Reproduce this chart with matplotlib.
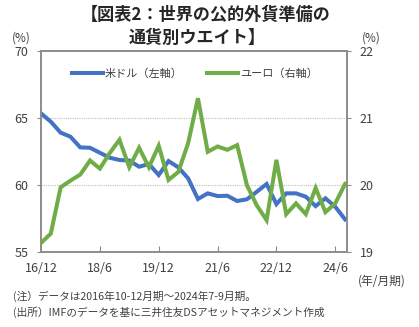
import matplotlib
matplotlib.use("Agg")
import matplotlib.pyplot as plt
import numpy as np

plt.rcParams['font.family'] = ['Noto Sans CJK JP', 'DejaVu Sans']

# 2016Q4 - 2024Q3, quarterly
usd_share = [65.37, 64.75, 63.93, 63.63, 62.83, 62.80, 62.43, 62.06, 61.89, 61.85,
             61.39, 61.59, 60.77, 61.81, 61.34, 60.52, 58.98, 59.40, 59.20, 59.22,
             58.83, 58.96, 59.52, 60.10, 58.60, 59.40, 59.40, 59.15, 58.45, 59.03,
             58.40, 57.46]
eur_share = [19.14, 19.28, 19.97, 20.07, 20.16, 20.37, 20.25, 20.48, 20.68, 20.27,
             20.56, 20.27, 20.59, 20.08, 20.20, 20.63, 21.30, 20.50, 20.58, 20.53,
             20.60, 20.00, 19.70, 19.48, 20.38, 19.57, 19.73, 19.57, 19.96, 19.60,
             19.73, 20.02]
tick_labels = ['16/12', '18/6', '19/12', '21/6', '22/12', '24/6']
tick_pos = [0, 6, 12, 18, 24, 30]

blue = '#4472C4'
green = '#70AD47'
txt = '#404040'
frame = '#8c8c8c'

fig = plt.figure(figsize=(4.19, 3.27), dpi=100)
ax = fig.add_axes([0.0979, 0.2284, 0.7303, 0.6146])
ax2 = ax.twinx()

x = np.arange(len(usd_share))
l1, = ax.plot(x, usd_share, color=blue, lw=2.9, solid_joinstyle='miter', zorder=3,
              label='米ドル（左軸）')
l2, = ax2.plot(x, eur_share, color=green, lw=2.9, solid_joinstyle='miter', zorder=3,
               label='ユーロ（右軸）')

ax.set_xlim(0, 31.2)
ax.set_ylim(55, 70)
ax2.set_ylim(19, 22)
ax.set_yticks([55, 60, 65, 70])
ax2.set_yticks([19, 20, 21, 22])
ax.set_xticks(tick_pos)
ax.set_xticklabels(tick_labels)

for a in (ax, ax2):
    for s in a.spines.values():
        s.set_color(frame)
        s.set_linewidth(1.2)

ax.tick_params(axis='x', direction='in', length=4, color=frame, labelsize=9,
               labelcolor=txt, pad=7)
ax.tick_params(axis='y', direction='out', length=3, color=frame, labelsize=9,
               labelcolor=txt, pad=6)
ax2.tick_params(axis='y', direction='out', length=3, color=frame, labelsize=9,
                labelcolor=txt, pad=6)

for g in (60, 65):
    ax.axhline(g, color='#bfbfbf', lw=0.8, ls=(0, (1, 1)), zorder=1)

ax2.legend(handles=[l1, l2], loc='center left', bbox_to_anchor=(0.10, 0.89),
           ncol=2, frameon=False, fontsize=8, handlelength=2.8,
           handletextpad=0.2, columnspacing=2.2, borderpad=0, borderaxespad=0,
           labelcolor=txt)

# title and annotations
fig.text(0.49, 0.955, '【図表2：世界の公的外貨準備の', ha='center', va='center',
         fontsize=12.3, fontweight='bold', color='#262626')
fig.text(0.47, 0.885, '通貨別ウエイト】', ha='center', va='center',
         fontsize=12.3, fontweight='bold', color='#262626')
fig.text(0.05, 0.885, '(%)', ha='center', va='center', fontsize=8.5, color=txt)
fig.text(0.885, 0.885, '(%)', ha='center', va='center', fontsize=8.5, color=txt)
fig.text(0.855, 0.14, '(年/月期)', ha='left', va='center', fontsize=8.5, color=txt)
fig.text(0.03, 0.095, '(注）データは2016年10-12月期～2024年7-9月期。', ha='left',
         va='center', fontsize=7.7, color=txt)
fig.text(0.03, 0.045, '(出所）IMFのデータを基に三井住友DSアセットマネジメント作成',
         ha='left', va='center', fontsize=7.7, color=txt)

fig.savefig('out.png', dpi=100)
